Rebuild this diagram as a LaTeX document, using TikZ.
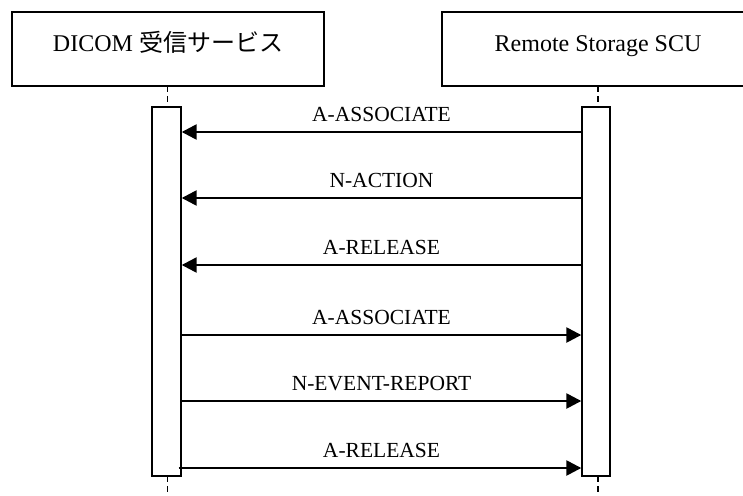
\documentclass[tikz,border=0pt]{standalone}
\usepackage{fontspec}
\setmainfont{Liberation Serif}
\newfontfamily\cjk{Noto Sans CJK JP}
\usetikzlibrary{arrows.meta,calc}
\tikzset{
  headbox/.style={draw, line width=1.6pt, minimum width=312pt, minimum height=74pt, inner sep=0pt,
    text height=22pt, text depth=16pt, font=\fontsize{24}{28}\selectfont},
  actbox/.style={draw, line width=1.4pt, fill=white, minimum width=28pt, minimum height=369pt, inner sep=0pt},
  lifeline/.style={line width=1.3pt, dash pattern=on 6pt off 4pt},
  msg/.style={line width=2.5pt, -{Triangle[length=15pt,width=15pt]}},
  msglabel/.style={anchor=base, font=\fontsize{21.5}{25}\selectfont, inner sep=0pt}
}
\begin{document}
\begin{tikzpicture}[x=1pt,y=-1pt]
\useasboundingbox (0,0) rectangle (743,495);
\clip (0,0) rectangle (743,495);
\fill[white] (0,0) rectangle (743,495);
% headers
\node[headbox] (hl) at (168,49) {DICOM {\cjk 受信サービス}};
\node[headbox] (hr) at (598,49) {Remote Storage SCU};
% activations
\node[actbox, minimum width=29pt] (al) at (166.5,291.5) {};
\node[actbox] (ar) at (596,291.5) {};
% lifelines
\coordinate (llt) at (167.5,86);
\coordinate (rlt) at (598,86);
\coordinate (lla) at (167.5,107);
\coordinate (rla) at (598,107);
\coordinate (llc) at (167.5,476);
\coordinate (rlc) at (598,476);
\coordinate (llb) at (167.5,495);
\coordinate (rlb) at (598,495);
\draw[lifeline] (llt) -- (lla);
\draw[lifeline] (rlt) -- (rla);
\draw[lifeline] (llc) -- (llb);
\draw[lifeline] (rlc) -- (rlb);
% messages
\foreach \i/\yy in {1/132,2/198,3/265,4/335,5/401,6/468}{
  \coordinate (l\i) at (al.east |- 0,\yy);
  \coordinate (r\i) at (ar.west |- 0,\yy);
}
\coordinate (l6s) at ($(l6)+(-3,0)$);
\draw[msg] (r1) -- (l1);
\draw[msg] (r2) -- (l2);
\draw[msg] (r3) -- (l3);
\draw[msg] (l4) -- (r4);
\draw[msg] (l5) -- (r5);
\draw[msg] (l6s) -- (r6);
\node[msglabel] (m1) at ($(l1)!0.5!(r1)+(0,-11)$) {A-ASSOCIATE};
\node[msglabel] (m2) at ($(l2)!0.5!(r2)+(0,-11)$) {N-ACTION};
\node[msglabel] (m3) at ($(l3)!0.5!(r3)+(0,-11)$) {A-RELEASE};
\node[msglabel] (m4) at ($(l4)!0.5!(r4)+(0,-11)$) {A-ASSOCIATE};
\node[msglabel] (m5) at ($(l5)!0.5!(r5)+(0,-11)$) {N-EVENT-REPORT};
\node[msglabel] (m6) at ($(l6)!0.5!(r6)+(0,-11)$) {A-RELEASE};
\end{tikzpicture}
\end{document}
